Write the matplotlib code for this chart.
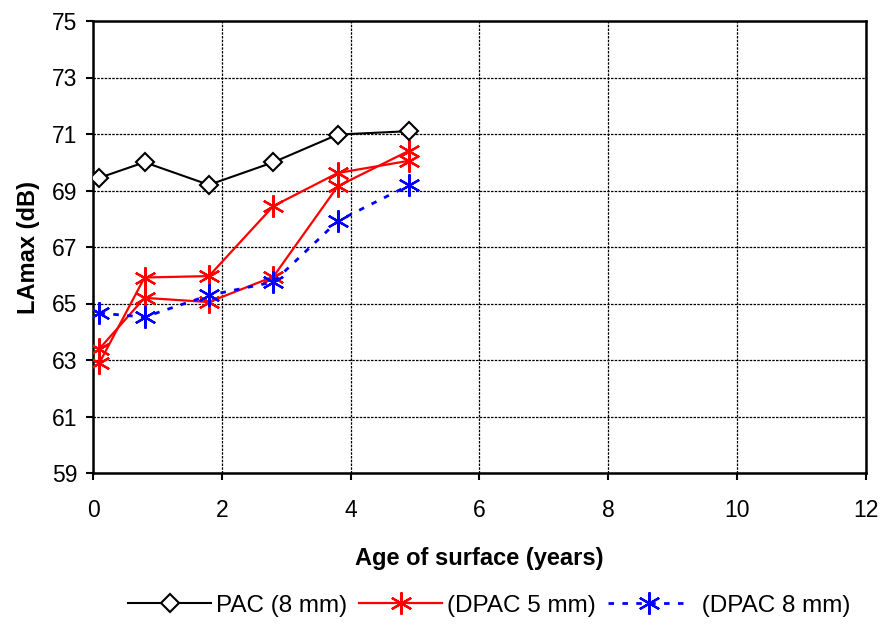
import matplotlib
matplotlib.use("Agg")
import matplotlib.pyplot as plt

plt.rcParams['font.family'] = ['Liberation Sans', 'DejaVu Sans']

# data
age = [0.1, 0.8, 1.8, 2.8, 3.8, 4.9]
pac_8 = [69.45, 70.0, 69.2, 70.0, 70.98, 71.1]
dpac_5a = [62.9, 65.92, 65.97, 68.45, 69.62, 70.05]
dpac_5b = [63.4, 65.2, 65.05, 65.95, 69.15, 70.4]
dpac_8 = [64.66, 64.52, 65.29, 65.76, 67.92, 69.18]

xticks = [0, 2, 4, 6, 8, 10, 12]
yticks = [59, 61, 63, 65, 67, 69, 71, 73, 75]

fig = plt.figure(figsize=(8.82, 6.25), dpi=100)
ax = fig.add_axes([93 / 882, 1 - 473 / 625, (866 - 93) / 882, (473 - 21) / 625])

star = (6, 2, 0)
ax.plot(age, pac_8, '-', color='black', lw=1.5, marker='D', ms=9,
        mfc='white', mec='black', mew=1.5, label='PAC (8 mm)', zorder=4)
ax.plot(age, dpac_5a, '-', color='red', lw=1.6, marker=star, ms=16,
        mec='red', mew=1.6, label='(DPAC 5 mm)', zorder=3)
ax.plot(age, dpac_5b, '-', color='red', lw=1.6, marker=star, ms=16,
        mec='red', mew=1.6, zorder=3)
ax.plot(age, dpac_8, color='blue', lw=2, linestyle=(0, (2, 3)), marker=star,
        ms=16, mec='blue', mew=1.6, label=' (DPAC 8 mm)', zorder=3)

ax.set_xlim(0, 12)
ax.set_ylim(59, 75)
ax.set_xticks(xticks)
ax.set_yticks(yticks)
ax.tick_params(labelsize=16.5, length=5, width=1.5, direction='out')
ax.tick_params(axis='x', pad=14)
ax.tick_params(axis='y', pad=6)
ax.grid(True, color='black', linestyle=(0, (2, 1)), linewidth=0.9)
ax.set_axisbelow(True)
for s in ax.spines.values():
    s.set_linewidth(1.8)

ax.set_xlabel('Age of surface (years)', fontsize=17, fontweight='bold', labelpad=18)
ax.set_ylabel('LAmax (dB)', fontsize=17, fontweight='bold', labelpad=9)

fig.legend(loc='lower center', bbox_to_anchor=(0.555, -0.022), ncol=3, frameon=False,
           fontsize=17.5, handlelength=3.4, columnspacing=0.5, handletextpad=0.2)

fig.savefig('out.png', dpi=100)
